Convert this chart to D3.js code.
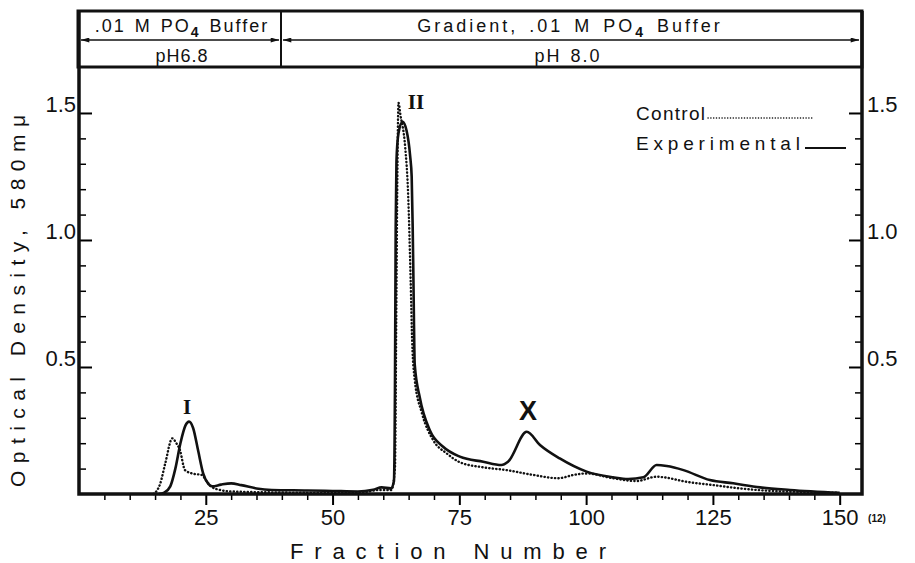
<!DOCTYPE html>
<html>
<head>
<meta charset="utf-8">
<style>
  body { margin: 0; padding: 0; background: #fff; }
  svg { display: block; }
  text { font-family: "Liberation Sans", Arial, sans-serif; fill: #111; }
  .tick text { font-size: 22px; }
</style>
<script src="https://cdn.jsdelivr.net/npm/d3@7"></script>
</head>
<body>
<div id="chart"></div>
<script>
// fraction number, optical density (580 mu)
var controlFraction = [14.7, 16, 17, 18.4, 19.2, 19.9, 20.9, 22.5, 24.2, 25.2, 26.1, 28, 30, 40, 50, 55, 59.3, 61.6, 62.3, 62.6, 62.8, 63, 63.4, 64.3, 64.9, 65.4, 65.7, 66.2, 67.6, 69.9, 72.5, 75.1, 79.7, 84.3, 89.6, 94.5, 97.5, 100.1, 105.3, 109.9, 113.9, 115.2, 119.8, 125.1, 130.3, 135.6, 142, 149.4];
var controlOD = [0, 0.04, 0.12, 0.219, 0.2, 0.173, 0.094, 0.08, 0.075, 0.05, 0.029, 0.015, 0.01, 0.006, 0.004, 0.004, 0.016, 0.016, 0.1, 0.8, 1.3, 1.54, 1.49, 1.37, 1.18, 0.84, 0.6, 0.45, 0.32, 0.21, 0.16, 0.125, 0.105, 0.094, 0.075, 0.062, 0.075, 0.081, 0.062, 0.051, 0.068, 0.066, 0.048, 0.035, 0.022, 0.013, 0.008, 0.005];

var expFraction = [15.8, 16.8, 18, 19, 20, 21, 21.7, 22.5, 23.5, 24.5, 25.5, 26.3, 28, 30, 32, 35, 38, 45, 50, 55, 58, 59.7, 61.5, 62.1, 62.3, 62.45, 62.6, 63, 63.8, 64.6, 65.3, 65.6, 65.8, 65.95, 66.2, 67.2, 69.2, 71.8, 75.1, 79.7, 83.3, 84.6, 88.3, 90.9, 94.8, 100.1, 105.3, 108.3, 111.3, 113.9, 115.9, 119.2, 124.4, 129, 134.3, 140.2, 150];
var expOD = [0, 0.005, 0.03, 0.1, 0.2, 0.27, 0.285, 0.26, 0.17, 0.08, 0.04, 0.03, 0.037, 0.042, 0.035, 0.022, 0.016, 0.014, 0.012, 0.01, 0.017, 0.026, 0.022, 0.05, 0.4, 1.05, 1.31, 1.42, 1.465, 1.43, 1.33, 1.25, 1.05, 0.84, 0.51, 0.38, 0.25, 0.186, 0.147, 0.127, 0.114, 0.127, 0.245, 0.193, 0.14, 0.088, 0.066, 0.059, 0.066, 0.114, 0.11, 0.094, 0.055, 0.042, 0.026, 0.016, 0.005];

var xTickLabels = [25, 50, 75, 100, 125, 150];
var yTickLabels = [0.5, 1.0, 1.5];

var width = 915, height = 563;
var plotLeft = 79, plotRight = 862, plotTop = 67, plotBottom = 494;

var svg = d3.select('#chart').append('svg')
  .attr('width', width)
  .attr('height', height);

var x = d3.scaleLinear().domain([0, 154.4]).range([plotLeft, plotRight]);
var y = d3.scaleLinear().domain([0, 1.681]).range([plotBottom, plotTop]);

// ---- header box with the buffer conditions
var divX = 281;
svg.append('rect')
  .attr('x', 78).attr('y', 11).attr('width', 784).attr('height', 56)
  .attr('fill', 'none').attr('stroke', '#111').attr('stroke-width', 3);
svg.append('line')
  .attr('x1', divX).attr('x2', divX).attr('y1', 11).attr('y2', 67)
  .attr('stroke', '#111').attr('stroke-width', 2);

var defs = svg.append('defs');
defs.append('marker')
  .attr('id', 'arr').attr('viewBox', '0 0 10 6')
  .attr('refX', 10).attr('refY', 3)
  .attr('markerWidth', 14).attr('markerHeight', 5)
  .attr('markerUnits', 'userSpaceOnUse')
  .attr('orient', 'auto-start-reverse')
  .append('path').attr('d', 'M0,0 L10,3 L0,6 Z').attr('fill', '#111');

[[81, divX - 2], [divX + 2, 859]].forEach(function(s) {
  svg.append('line')
    .attr('x1', s[0]).attr('x2', s[1]).attr('y1', 40).attr('y2', 40)
    .attr('stroke', '#111').attr('stroke-width', 1.5)
    .attr('marker-start', 'url(#arr)').attr('marker-end', 'url(#arr)');
});

function headerText(cx, yb, spacing, before, sub, after) {
  var t = svg.append('text')
    .attr('x', cx).attr('y', yb)
    .attr('text-anchor', 'middle')
    .style('font-size', '18px')
    .style('letter-spacing', spacing + 'px')
    .style('word-spacing', spacing + 'px');
  t.append('tspan').text(before);
  if (sub) {
    t.append('tspan').attr('dy', 5).style('font-size', '14px').style('font-weight', 'bold').text(sub);
    t.append('tspan').attr('dy', -5).text(after);
  }
  return t;
}
headerText(182, 32, 2, '.01 M PO', '4', ' Buffer');
headerText(570, 32, 3, 'Gradient, .01 M  PO', '4', ' Buffer');
headerText(182, 62, 1, 'pH6.8');
headerText(568, 62, 2, 'pH 8.0');

// ---- axes
var minor = d3.range(5, 151, 5).filter(function(d) { return d % 25 !== 0; });
var yMinor = d3.range(1, 16).map(function(d) { return d / 10; }).filter(function(d) { return Math.round(d * 10) % 5 !== 0; });

svg.append('g')
  .attr('transform', 'translate(0,' + plotBottom + ')')
  .call(d3.axisBottom(x).tickValues(minor).tickSize(6).tickFormat(''))
  .call(function(g) { g.select('.domain').remove(); g.selectAll('line').attr('stroke-width', 1.5); });
svg.append('g')
  .attr('transform', 'translate(0,' + plotBottom + ')')
  .call(d3.axisBottom(x).tickValues(xTickLabels).tickSize(11).tickPadding(4))
  .call(function(g) {
    g.select('.domain').remove();
    g.selectAll('line').attr('stroke-width', 2);
    g.selectAll('text').attr('fill', '#111');
  });

svg.append('g')
  .attr('transform', 'translate(' + plotLeft + ',0)')
  .call(d3.axisLeft(y).tickValues(yMinor).tickSize(-7).tickFormat(''))
  .call(function(g) { g.select('.domain').remove(); g.selectAll('line').attr('stroke-width', 1.5); });
svg.append('g')
  .attr('transform', 'translate(' + plotLeft + ',0)')
  .call(d3.axisLeft(y).tickValues(yTickLabels).tickSize(-13).tickPadding(3).tickFormat(d3.format('.1f')))
  .call(function(g) {
    g.select('.domain').remove();
    g.selectAll('line').attr('stroke-width', 2);
    g.selectAll('text').attr('dy', '-0.05em').attr('fill', '#111');
  });

svg.append('g')
  .attr('transform', 'translate(' + plotRight + ',0)')
  .call(d3.axisRight(y).tickValues(yMinor).tickSize(-7).tickFormat(''))
  .call(function(g) { g.select('.domain').remove(); g.selectAll('line').attr('stroke-width', 1.5); });
svg.append('g')
  .attr('transform', 'translate(' + plotRight + ',0)')
  .call(d3.axisRight(y).tickValues(yTickLabels).tickSize(-13).tickPadding(5).tickFormat(d3.format('.1f')))
  .call(function(g) {
    g.select('.domain').remove();
    g.selectAll('line').attr('stroke-width', 2);
    g.selectAll('text').attr('dy', '-0.05em').attr('fill', '#111');
  });

// plot frame (left, bottom, right)
svg.append('path')
  .attr('d', 'M' + plotLeft + ',' + 11 + 'V' + plotBottom + 'H' + plotRight + 'V' + 11)
  .attr('fill', 'none').attr('stroke', '#111').attr('stroke-width', 3.5);

// ---- curves
var line = d3.line()
  .x(function(d) { return x(d[0]); })
  .y(function(d) { return y(d[1]); })
  .curve(d3.curveMonotoneX);

var control = d3.zip(controlFraction, controlOD);
var experimental = d3.zip(expFraction, expOD);

svg.append('path')
  .datum(control)
  .attr('d', line)
  .attr('fill', 'none').attr('stroke', '#111')
  .attr('stroke-width', 2.4)
  .attr('stroke-linecap', 'round')
  .attr('stroke-dasharray', '0.3,3.2');

svg.append('path')
  .datum(experimental)
  .attr('d', line)
  .attr('fill', 'none').attr('stroke', '#111')
  .attr('stroke-width', 2.6);

// ---- peak labels
svg.append('text').attr('x', 187).attr('y', 414).attr('text-anchor', 'middle')
  .style('font-family', '"Liberation Serif", serif').style('font-weight', 'bold').style('font-size', '21px').text('I');
svg.append('text').attr('x', 416).attr('y', 109).attr('text-anchor', 'middle')
  .style('font-family', '"Liberation Serif", serif').style('font-weight', 'bold').style('font-size', '21px').text('II');
svg.append('text').attr('x', 528).attr('y', 420).attr('text-anchor', 'middle')
  .style('font-weight', 'bold').style('font-size', '27px').text('X');

// ---- legend
svg.append('text').attr('x', 636).attr('y', 120)
  .attr('textLength', 69).attr('lengthAdjust', 'spacing')
  .style('font-size', '19px').text('Control');
svg.append('line').attr('x1', 708).attr('x2', 812).attr('y1', 118).attr('y2', 118)
  .attr('stroke', '#111').attr('stroke-width', 1.4)
  .attr('stroke-linecap', 'round').attr('stroke-dasharray', '0.2,2.6');
svg.append('text').attr('x', 636).attr('y', 150)
  .attr('textLength', 164).attr('lengthAdjust', 'spacing')
  .style('font-size', '19px').text('Experimental');
svg.append('line').attr('x1', 805).attr('x2', 846).attr('y1', 148).attr('y2', 148)
  .attr('stroke', '#111').attr('stroke-width', 2);

// ---- axis titles
svg.append('text')
  .attr('transform', 'translate(25,301) rotate(-90)')
  .attr('text-anchor', 'middle')
  .attr('textLength', 372).attr('lengthAdjust', 'spacing')
  .style('font-size', '21px')
  .text('Optical  Density, 580mμ');
svg.append('text')
  .attr('x', 448).attr('y', 559)
  .attr('text-anchor', 'middle')
  .attr('textLength', 316).attr('lengthAdjust', 'spacing')
  .style('font-size', '22px')
  .text('Fraction    Number');

svg.append('text').attr('x', 877).attr('y', 522).attr('text-anchor', 'middle')
  .style('font-size', '10px').style('font-weight', 'bold').text('(12)');
</script>
</body>
</html>
